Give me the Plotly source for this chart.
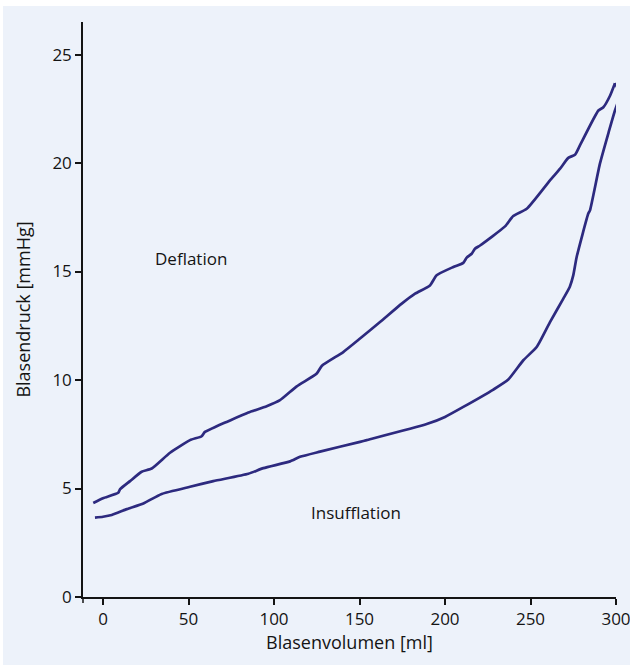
import plotly.graph_objects as go

# Insufflation (filling), volume in ml and pressure in mmHg
insuff_vol = [-4.7, 0, 5.1, 13.9, 23.6, 34.3, 50.9, 64.5, 85, 93.8, 109.4, 115.2,
              126.9, 150.3, 154.2, 189.3, 200, 210.7, 228.3, 237, 245.8, 253.6,
              261.4, 269.2, 273, 275, 277, 283.8, 284.8, 290.6, 296, 299.4, 301.4, 301.6, 301.2, 299.4]
insuff_p = [3.66, 3.7, 3.78, 4.05, 4.31, 4.75, 5.08, 5.34, 5.68, 5.94, 6.25, 6.46,
            6.7, 7.15, 7.23, 7.97, 8.3, 8.76, 9.56, 10.02, 10.91, 11.52,
            12.67, 13.75, 14.3, 14.82, 15.67, 17.67, 17.82, 19.97, 21.5, 22.42, 22.88, 23.1, 23.4, 23.68]

# Deflation (emptying)
defl_vol = [299.4, 296.5, 292.6, 289.7, 278.9, 276, 272.1, 267.3, 261.4, 247.8, 239.9,
            235.1, 220.5, 217.5, 215.6, 212.7, 210.7, 204.9, 195.1, 191.2, 182.5,
            174.7, 162, 150.3, 140.5, 127.9, 125, 113.3, 103.5, 95.7, 85, 72.3,
            66.5, 59.6, 57.7, 50.9, 39.2, 28.5, 22.6, 15.8, 10, 8.9, 0, -5.7]
defl_p = [23.68, 23.1, 22.57, 22.42, 20.81, 20.38, 20.24, 19.74, 19.2, 17.89, 17.56,
          17.08, 16.2, 16.05, 15.82, 15.64, 15.4, 15.21, 14.83, 14.36, 13.98,
          13.52, 12.67, 11.91, 11.29, 10.65, 10.3, 9.71, 9.07, 8.79, 8.5, 8.07,
          7.87, 7.61, 7.41, 7.23, 6.65, 5.92, 5.77, 5.34, 4.97, 4.8, 4.55, 4.33]

x_ticks = [0, 50, 100, 150, 200, 250, 300]
y_ticks = [0, 5, 10, 15, 20, 25]

line_color = "#2d2a7f"
bg = "#edf2fa"
font = "Open Sans"
txt = "#141414"

fig = go.Figure()
fig.add_trace(go.Scatter(x=insuff_vol, y=insuff_p, mode="lines", cliponaxis=False,
                         line=dict(color=line_color, width=2.7, shape="spline", smoothing=0.5),
                         name="Insufflation", showlegend=False))
fig.add_trace(go.Scatter(x=defl_vol, y=defl_p, mode="lines", cliponaxis=False,
                         line=dict(color=line_color, width=2.7, shape="spline", smoothing=0.5),
                         name="Deflation", showlegend=False))

fig.add_annotation(x=51.5, y=15.6, text="Deflation", showarrow=False,
                   font=dict(family=font, size=17, color=txt))
fig.add_annotation(x=148, y=3.9, text="Insufflation", showarrow=False,
                   font=dict(family=font, size=17, color=txt))

# light background panel
fig.add_shape(type="rect", xref="paper", yref="paper", layer="below",
              x0=(3 - 83) / 533, x1=1.05, y0=-0.13, y1=(597 - 6) / 575,
              fillcolor=bg, line=dict(width=0))
# small stub of the y-axis below the origin
fig.add_shape(type="line", xref="paper", yref="paper",
              x0=0, x1=0, y0=0, y1=-6 / 575, line=dict(color=txt, width=1.5))

fig.update_layout(
    width=630, height=665,
    margin=dict(l=83, r=14, t=22, b=68),
    paper_bgcolor="white", plot_bgcolor=bg,
    font=dict(family=font, size=17, color=txt),
    xaxis=dict(range=[-11.7, 300], tickvals=x_ticks, showgrid=False, zeroline=False,
               showline=True, linecolor=txt, linewidth=1.5, automargin=False,
               ticks="outside", ticklen=6, tickwidth=1.5, tickcolor=txt,
               tickfont=dict(size=17), ticklabeloverflow="allow",
               title=dict(text="Blasenvolumen [ml]", font=dict(size=18), standoff=7)),
    yaxis=dict(range=[0, 26.5], tickvals=y_ticks, showgrid=False, zeroline=False,
               showline=True, linecolor=txt, linewidth=1.5, automargin=False,
               ticks="outside", ticklen=6, tickwidth=1.5, tickcolor=txt,
               tickfont=dict(size=17),
               title=dict(text="Blasendruck [mmHg]", font=dict(size=18), standoff=17)),
)

fig.write_html("out.html", post_script="document.body.style.margin='0';",
               config={"displayModeBar": False})
